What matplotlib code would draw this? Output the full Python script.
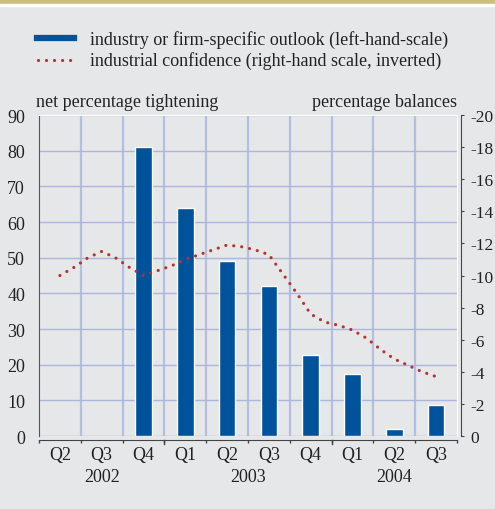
import numpy as np
import matplotlib.pyplot as plt
import matplotlib.patches as mpatches

plt.rcParams['font.family'] = ['Liberation Serif', 'DejaVu Serif']

# quarters from 2002 Q2 to 2004 Q3
quarters = ['Q2', 'Q3', 'Q4', 'Q1', 'Q2', 'Q3', 'Q4', 'Q1', 'Q2', 'Q3']
years = ['2002', '2003', '2004']
year_pos = [1, 4.5, 8]
# net percentage tightening (left scale), no data for first two quarters
outlook = [np.nan, np.nan, 81, 64, 49, 42, 22.6, 17.4, 2, 8.8]
# industrial confidence, monthly, percentage balances (right scale, inverted)
confidence = [-10.0, -10.5, -11.1, -11.5, -11.1, -10.5, -10.0, -10.3, -10.6,
              -11.0, -11.3, -11.6, -11.9, -11.8, -11.6, -11.3, -10.1, -8.9,
              -7.6, -7.1, -6.9, -6.6, -6.1, -5.4, -4.8, -4.4, -4.0, -3.7]

bg = '#e6e7e9'
blue = '#00529b'
red = '#b5322e'
grid = '#aab6da'
txt = '#222222'
fs = 13
dots = (0, (0.01, 2.5))

fig = plt.figure(figsize=(4.95, 5.10), dpi=100, facecolor=bg)
# khaki band on top
fig.patches.append(mpatches.Rectangle((0, 0.99), 1, 0.01, transform=fig.transFigure,
                                      color='#cbbd84', zorder=0))
fig.patches.append(mpatches.Rectangle((0, 0.987), 1, 0.003, transform=fig.transFigure,
                                      color='white', zorder=0))

ax = fig.add_axes([0.0788, 0.1431, 0.8444, 0.6294])
ax.set_facecolor(bg)
x = np.arange(len(quarters))
ax.bar(x, outlook, width=0.4, color=blue, edgecolor='white', linewidth=1, zorder=3)
ax.set_xlim(-0.5, 9.5)
ax.set_ylim(0, 90)
ax.set_yticks(np.arange(0, 91, 10))
ax.set_xticks(np.arange(-0.5, 10, 1))
ax.set_xticklabels([])
ax.grid(axis='y', color=grid, linewidth=1, zorder=1)
for b in np.arange(0.5, 9.5, 1):
    ax.axvline(b, color='#b3bfe0', linewidth=1.6, zorder=1)
ax.tick_params(axis='y', length=0, labelsize=fs, labelcolor=txt, pad=10)
ax.tick_params(axis='x', direction='out', length=2, color='#444444', width=1)

for s in ['top', 'right']:
    ax.spines[s].set_color('white')
ax.spines['left'].set_color('#555555')
ax.spines['bottom'].set_position(('outward', 3))
ax.spines['bottom'].set_color('#444444')

# longer ticks at year boundaries
for b in [2.5, 6.5]:
    ax.plot([b, b], [-0.011, -0.025], transform=ax.get_xaxis_transform(),
            color='#444444', linewidth=1, clip_on=False)

for i, q in enumerate(quarters):
    ax.text(i, -0.03, q, transform=ax.get_xaxis_transform(), ha='center', va='top',
            fontsize=fs, color=txt)
for p, yr in zip(year_pos, years):
    ax.text(p, -0.1, yr, transform=ax.get_xaxis_transform(), ha='center', va='top',
            fontsize=fs, color=txt)

ax2 = ax.twinx()
months = np.arange(len(confidence)) / 3.0
ax2.plot(months, confidence, color=red, linestyle=dots, linewidth=2.3,
         dash_capstyle='round', zorder=4)
ax2.set_ylim(0, -20)
ax2.set_yticks(np.arange(0, -21, -2))
ax2.set_yticklabels([str(v) for v in range(0, -21, -2)])
ax2.tick_params(axis='y', direction='out', length=2, color='#444444', labelsize=12.5,
                labelcolor=txt, pad=5)
for s in ['top', 'left', 'bottom']:
    ax2.spines[s].set_visible(False)
ax2.spines['right'].set_position(('outward', 3))
ax2.spines['right'].set_color('#444444')

ax.text(-0.008, 1.015, 'net percentage tightening', transform=ax.transAxes,
        ha='left', va='bottom', fontsize=fs, color=txt)
ax.text(1.0, 1.015, 'percentage balances', transform=ax.transAxes,
        ha='right', va='bottom', fontsize=fs, color=txt)

# legend
fig.add_artist(plt.Line2D([37 / 495, 74 / 495], [1 - 39 / 510] * 2, color=blue,
                          linewidth=4.5, transform=fig.transFigure))
fig.add_artist(plt.Line2D([38 / 495, 75 / 495], [1 - 61 / 510] * 2, color=red,
                          linewidth=2.3, linestyle=dots,
                          dash_capstyle='round', transform=fig.transFigure))
fig.text(90 / 495, 1 - 40 / 510, 'industry or firm-specific outlook (left-hand-scale)',
         ha='left', va='center', fontsize=fs, color=txt)
fig.text(90 / 495, 1 - 61 / 510, 'industrial confidence (right-hand scale, inverted)',
         ha='left', va='center', fontsize=fs, color=txt)

fig.savefig('out.png', dpi=100, facecolor=bg)
